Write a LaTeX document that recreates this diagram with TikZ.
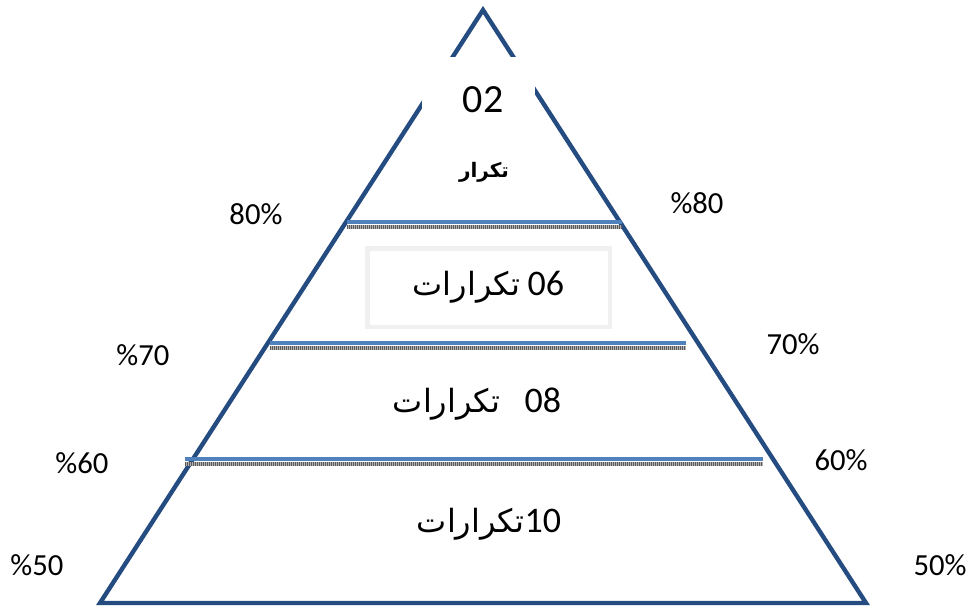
\documentclass[tikz,border=0pt]{standalone}
\usepackage{fontspec}
\setmainfont{Carlito}
\newfontfamily\arabicfont[Script=Arabic]{DejaVu Sans}
\TeXXeTstate=1
\definecolor{edgeblue}{RGB}{36,76,128}
\definecolor{bandblue}{RGB}{79,129,189}
\definecolor{boxgray}{RGB}{240,240,240}
\newcommand{\artext}[1]{{\arabicfont\beginR #1\endR}}
\newcommand{\bignum}[1]{{\fontsize{27}{30}\selectfont #1}}
\begin{document}
\begin{tikzpicture}
    [   x=0.75pt, y=-0.75pt,
        pct/.style={inner sep=0pt, font=\fontsize{23}{26}\selectfont},
        lvl/.style={inner sep=0pt, font=\fontsize{24}{28}\selectfont},
    ]
    \useasboundingbox (0,0) rectangle (970,610);
    % pyramid outline
    \coordinate (top) at (483,10);
    \coordinate (bl) at (100,603);
    \coordinate (br) at (866,603);
    \draw[edgeblue, line width=3.3pt, line join=miter] (top) -- (br) -- (bl) -- cycle;
    \fill[white] (422,57) rectangle (535,112);
    % level bands
    \foreach \y/\xa/\xb in {222/347/622, 343/270/686, 459/185/763}
    {   \draw[black!30, line width=3pt] (\xa,{\y+5}) -- (\xb,{\y+5});
        \draw[black!65, line width=3pt, dash pattern=on 0.75pt off 0.75pt] (\xa,{\y+5}) -- (\xb,{\y+5});
        \draw[bandblue, line width=3pt] (\xa,\y) -- (\xb,\y);
    }
    % level texts
    \node[inner sep=0pt, font=\fontsize{30}{33}\selectfont] (t02) at (483,100) {02};
    \node[inner sep=0pt, font=\fontsize{15}{18}\selectfont\bfseries] (r02) at (484,172) {\artext{تكرار}};
    \node[lvl, draw=boxgray, line width=3.5pt, minimum width=182pt, minimum height=59pt] (t06) at (488.5,287.5) {\artext{تكرارات}\ \bignum{06}};
    \node[lvl] (t08) at (477,404) {\artext{تكرارات}\hspace{18pt}\bignum{08}};
    \node[lvl] (t10) at (489,524) {\artext{تكرارات}\bignum{10}};
    % percentages
    \foreach \n/\t/\x/\y in {l80/80\%/256/214, r80/\%80/697/203, l70/\%70/143/355, r70/70\%/793/344,
                             l60/\%60/82/463, r60/60\%/841/460, l50/\%50/37/565, r50/50\%/940/565}
    {   \node[pct] (p-\n) at (\x,\y) {\t};
    }
\end{tikzpicture}
\end{document}
